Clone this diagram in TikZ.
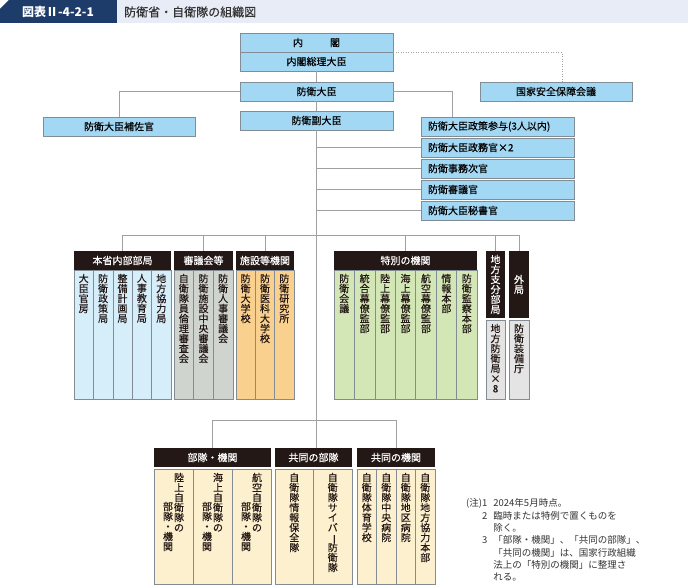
\documentclass[tikz,border=0pt]{standalone}
\usepackage{graphicx}
\usepackage{fontspec}
\setmainfont{Noto Sans CJK JP}[UprightFeatures={FakeBold=0.3}]
\newfontfamily\notefont{Noto Sans CJK JP}
\usetikzlibrary{positioning}
\definecolor{navy}{RGB}{30,60,105}
\definecolor{band}{RGB}{232,236,247}
\definecolor{skyblue}{RGB}{163,216,244}
\definecolor{edgegray}{RGB}{130,140,148}
\definecolor{linegray}{RGB}{160,160,160}
\definecolor{headblack}{RGB}{35,24,21}
\definecolor{inkgray}{RGB}{35,24,21}
\definecolor{paleblue}{RGB}{214,237,250}
\definecolor{palegray}{RGB}{208,212,207}
\definecolor{paleorange}{RGB}{250,208,142}
\definecolor{palegreen}{RGB}{211,230,181}
\definecolor{lightgray}{RGB}{228,228,228}
\definecolor{cream}{RGB}{253,240,206}
% vertical (tate) text: one character per line
\newcommand\chobar{\rotatebox[origin=c]{-90}{ー}}
\def\tateloop#1{\ifx\relax#1\else\hbox to 10pt{\hss#1\hss}\expandafter\tateloop\fi}
\newcommand\tate[1]{\vbox{\baselineskip=10pt\lineskip=0pt\lineskiplimit=-100pt\expandafter\tateloop#1\relax}}

\begin{document}
\begin{tikzpicture}[x=1pt,y=-1pt,
every node/.style={inner sep=0pt,font=\fontsize{10}{12}\selectfont},
bluebox/.style={draw=edgegray,fill=skyblue,line width=0.8pt,minimum width=153,minimum height=19},
listbox/.style={bluebox,text width=139pt,inner xsep=7pt,align=left},
headbox/.style={fill=headblack,text=white,minimum height=19},
colbox/.style={draw=edgegray,line width=0.6pt,minimum height=129},
lowbox/.style={draw=edgegray,line width=0.6pt,fill=cream,minimum height=115},
tatebox/.style={anchor=north,text=inkgray},
conn/.style={draw=linegray,line width=1pt}]
\useasboundingbox (0,0) rectangle (688,586);
% title bar
\fill[navy] (0,23) -- (0,9) -- (9,0) -- (117,0) -- (117,23) -- cycle;
\fill[band] (117,0) rectangle (688,23);
\node[text=white,font=\fontsize{12}{14}\selectfont\bfseries] (T1) at (58,12) {図表Ⅱ-4-2-1};
\node[anchor=west,text=black!80,font=\fontsize{12}{14}\selectfont] (T2) at (124,12) {防衛省・自衛隊の組織図};
% top
\node[bluebox] (B1) at (316.5,42.5) {内\hspace{27pt}閣};
\node[bluebox] (B2) at (316.5,61.5) {内閣総理大臣};
\node[bluebox] (B3) at (316.5,91.5) {防衛大臣};
\node[bluebox] (B4) at (316.5,120.5) {防衛副大臣};
\node[bluebox,minimum width=152] (A1) at (119,126.5) {防衛大臣補佐官};
\node[bluebox,minimum width=152] (NS) at (556,91.5) {国家安全保障会議};
\node[listbox] (R1) at (497.5,126.5) {防衛大臣政策参与(3人以内)};
\node[listbox] (R2) at (497.5,147.5) {防衛大臣政務官×2};
\node[listbox] (R3) at (497.5,168.5) {防衛事務次官};
\node[listbox] (R4) at (497.5,189.5) {防衛審議官};
\node[listbox] (R5) at (497.5,210.5) {防衛大臣秘書官};
% middle groups
\node[headbox,minimum width=97] (G1) at (122.5,260.5) {本省内部部局};
\node[headbox,minimum width=59] (G2) at (203.5,260.5) {審議会等};
\node[headbox,minimum width=58] (G3) at (265,260.5) {施設等機関};
\node[headbox,minimum width=143] (G4) at (405.5,260.5) {特別の機関};
\node[headbox,minimum width=19,minimum height=67] (G5) at (495.5,284.5) {\tate{地方支分部局}};
\node[headbox,minimum width=20,minimum height=67] (G6) at (519,284.5) {\tate{外局}};
\foreach \lbl [count=\i] in {大臣官房,防衛政策局,整備計画局,人事教育局,地方協力局}{
  \node[colbox,fill=paleblue,minimum width=19.4] (P\i) at ({64.3+19.4*\i},334.5) {};
  \node[tatebox] (Pt\i) at ([yshift=-4pt]P\i.north) {\tate{\lbl}};
}
\foreach \lbl [count=\i] in {自衛隊員倫理審査会,防衛施設中央審議会,防衛人事審議会}{
  \node[colbox,fill=palegray,minimum width=19.67] (S\i) at ({164.17+19.67*\i},334.5) {};
  \node[tatebox] (St\i) at ([yshift=-4pt]S\i.north) {\tate{\lbl}};
}
\foreach \lbl [count=\i] in {防衛大学校,防衛医科大学校,防衛研究所}{
  \node[colbox,fill=paleorange,minimum width=19.33] (F\i) at ({226.33+19.33*\i},334.5) {};
  \node[tatebox] (Ft\i) at ([yshift=-4pt]F\i.north) {\tate{\lbl}};
}
\foreach \lbl [count=\i] in {防衛会議,統合幕僚監部,陸上幕僚監部,海上幕僚監部,航空幕僚監部,情報本部,防衛監察本部}{
  \node[colbox,fill=palegreen,minimum width=20.43] (M\i) at ({323.79+20.43*\i},334.5) {};
  \node[tatebox] (Mt\i) at ([yshift=-4pt]M\i.north) {\tate{\lbl}};
}
\node[colbox,fill=lightgray,minimum width=19,minimum height=79] (D1) at (495.5,359.5) {};
\node[tatebox] (Dt1) at ([yshift=-4pt]D1.north) {\tate{地方防衛局×8}};
\node[colbox,fill=lightgray,minimum width=20,minimum height=79] (E1) at (519,359.5) {};
\node[tatebox] (Et1) at ([yshift=-4pt]E1.north) {\tate{防衛装備庁}};
% lower groups
\node[headbox,minimum width=117] (K1) at (212.5,457.5) {部隊・機関};
\node[headbox,minimum width=77] (K2) at (313.5,457.5) {共同の部隊};
\node[headbox,minimum width=78] (K3) at (396,457.5) {共同の機関};
\foreach \a/\b [count=\i] in {陸上自衛隊の/部隊・機関,海上自衛隊の/部隊・機関,航空自衛隊の/部隊・機関}{
  \node[lowbox,minimum width=39] (Q\i) at ({134.5+39*\i},526.5) {};
  \node[tatebox] (Qa\i) at ([xshift=5.5pt,yshift=-4pt]Q\i.north) {\tate{\a}};
  \node[tatebox] (Qb\i) at ([xshift=-5.5pt,yshift=-33pt]Q\i.north) {\tate{\b}};
}
\foreach \lbl [count=\i] in {自衛隊情報保全隊,自衛隊サイバ\chobar 防衛隊}{
  \node[lowbox,minimum width=38.5] (U\i) at ({255.75+38.5*\i},526.5) {};
  \node[tatebox] (Ut\i) at ([yshift=-4pt]U\i.north) {\tate{\lbl}};
}
\foreach \lbl [count=\i] in {自衛隊体育学校,自衛隊中央病院,自衛隊地区病院,自衛隊地方協力本部}{
  \node[lowbox,minimum width=19.5] (V\i) at ({347.25+19.5*\i},526.5) {};
  \node[tatebox] (Vt\i) at ([yshift=-4pt]V\i.north) {\tate{\lbl}};
}
% notes
\node[anchor=north west,align=left,text=black!80,font=\notefont\fontsize{9.5}{12.3}\selectfont] (NT) at (466,498)
{\begin{tabular}{@{}r@{\hspace{6pt}}l@{}}
(注)1 & 2024年5月時点。\\
2 & 臨時または特例で置くものを\\
 & 除く。\\
3 & 「部隊・機関」、「共同の部隊」、\\
 & 「共同の機関」は、国家行政組織\\
 & 法上の「特別の機関」に整理さ\\
 & れる。
\end{tabular}};
% connectors
\coordinate (C1) at (452,117);
\coordinate (C2) at (562,82);
\coordinate (J1) at (316.5,235);
\coordinate (J2) at (316.5,420);
\draw[conn] (B2.south) -- (B3.north);
\draw[conn] (B3.south) -- (B4.north);
\draw[conn] (B4.south) -- (B4.south |- K2.north);
\draw[conn] (B3.west) -| (A1.north);
\draw[conn] (B3.east) -| (C1);
\draw[conn,dash pattern=on 1pt off 1.5pt] (B1.south east) -| (C2);
\foreach \k in {2,...,5} \draw[conn] (B4.south |- R\k.west) -- (R\k.west);
\draw[conn] (G1.north) -- (G1.north |- J1) -- (G6.north |- J1) -- (G6.north);
\foreach \k in {2,...,5} \draw[conn] (G\k.north) -- (G\k.north |- J1);
\draw[conn] (K1.north) -- (K1.north |- J2) -- (K3.north |- J2) -- (K3.north);
\end{tikzpicture}
\end{document}
